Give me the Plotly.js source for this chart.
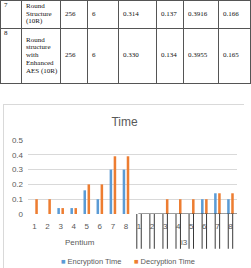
<!DOCTYPE html>
<html>
<head>
<meta charset="utf-8">
<script src="https://cdn.plot.ly/plotly-3.0.1.min.js"></script>
<style>
  html, body { margin:0; padding:0; background:#fff; width:251px; height:268px; overflow:hidden; }
  #tbl { position:absolute; left:0; top:0; border-collapse:collapse; table-layout:fixed;
         font-family:"Liberation Serif","DejaVu Serif",serif; font-size:7px; line-height:7.8px; color:#111; }
  #tbl td { border:1px solid #555; padding:0 0 0 4px; vertical-align:middle; overflow:hidden; }
  #tbl td.num { vertical-align:top; padding-top:1px; padding-left:3px; }
  #chart { position:absolute; left:3px; top:104px; width:241px; height:170px; border:1px solid #D9D9D9; box-sizing:border-box; }
</style>
</head>
<body>
<table id="tbl">
  <colgroup>
    <col style="width:21px"><col style="width:39px"><col style="width:27px"><col style="width:31px">
    <col style="width:38px"><col style="width:27px"><col style="width:35px"><col style="width:32px">
  </colgroup>
  <tbody id="tbody"></tbody>
</table>
<div id="chart"></div>
<script>
// ---- table data ----
const rowNumbers = ["7", "8"];
const rowNames = ["Round<br>Structure<br>(10R)", "Round<br>structure<br>with<br>Enhanced<br>AES (10R)"];
const keySizes = ["256", "256"];
const colSix = ["6", "6"];
const colA = ["0.314", "0.330"];
const colB = ["0.137", "0.134"];
const colC = ["0.3916", "0.3955"];
const colD = ["0.166", "0.165"];
const rowHeights = [28, 55];

const tbody = document.getElementById('tbody');
rowNumbers.forEach((n, i) => {
  const tr = document.createElement('tr');
  tr.style.height = rowHeights[i] + 'px';
  const cells = [n, rowNames[i], keySizes[i], colSix[i], colA[i], colB[i], colC[i], colD[i]];
  cells.forEach((c, j) => {
    const td = document.createElement('td');
    td.innerHTML = c;
    if (j === 0) td.className = 'num';
    tr.appendChild(td);
  });
  tbody.appendChild(tr);
});

// ---- chart data ----
const groups = ["Pentium", "i3"];
const labels = ["1", "2", "3", "4", "5", "6", "7", "8"];
const encPentium = [0, 0, 0.04, 0.04, 0.16, 0.1, 0.3, 0.3];
const decPentium = [0.1, 0.1, 0.04, 0.04, 0.2, 0.2, 0.39, 0.39];
const encI3 = [0, 0, 0, 0, 0, 0.1, 0.14, 0.1];
const decI3 = [0, 0, 0.1, 0.1, 0.1, 0.1, 0.14, 0.14];
const seriesNames = ["Encryption Time", "Decryption Time"];
const colors = ["#5B9BD5", "#ED7D31"];

// category positions (index along the axis) and their labels
const catIdx = [], catText = [];
groups.forEach((g, gi) => labels.forEach((l, li) => { catIdx.push(gi * labels.length + li); catText.push(l); }));
const nCat = catIdx.length;

const traces = [
  { type:'bar', name: seriesNames[0], x:catIdx, y: encPentium.concat(encI3), marker:{color:colors[0]}, showlegend:false },
  { type:'bar', name: seriesNames[1], x:catIdx, y: decPentium.concat(decI3), marker:{color:colors[1]}, showlegend:false }
];

// odd rendering artifacts in the second group: line pairs around each label + dark baseline
const shapes = [];
for (let k = labels.length; k < nCat; k++) {
  [-0.17, 0.17].forEach(d => {
    shapes.push({ type:'line', xref:'x', yref:'paper', x0:k + d, x1:k + d, y0:0, y1:-0.47,
                  line:{color:'#3a3a3a', width:1}, layer:'above' });
  });
}
shapes.push({ type:'line', xref:'x', yref:'y', x0:labels.length - 0.05, x1:nCat - 0.5, y0:0, y1:0,
              line:{color:'#3a3a3a', width:1}, layer:'above' });

const txt = '#595959';
const annotations = groups.map((g, gi) => ({
  xref:'x', yref:'paper', x: gi * labels.length + (labels.length - 1) / 2, y:-0.39,
  xanchor:'center', yanchor:'middle', showarrow:false, text:g, font:{size:8, color:txt}
}));
annotations.push(
  { xref:'paper', yref:'paper', x:0.148, y:-0.645, xanchor:'left', yanchor:'middle', showarrow:false,
    text:'<span style="color:' + colors[0] + '">■</span> ' + seriesNames[0], font:{size:7.5, color:txt} },
  { xref:'paper', yref:'paper', x:0.497, y:-0.645, xanchor:'left', yanchor:'middle', showarrow:false,
    text:'<span style="color:' + colors[1] + '">■</span> ' + seriesNames[1], font:{size:7.5, color:txt} }
);

const layout = {
  width:241, height:170,
  margin:{l:24, r:8, t:35, b:61},
  paper_bgcolor:'#fff', plot_bgcolor:'#fff',
  font:{family:'"Liberation Sans", Arial, sans-serif', size:8, color:txt},
  title:{text:'Time', font:{size:12, color:txt}, x:0.5, xanchor:'center', y:0.9, yref:'container', yanchor:'middle'},
  barmode:'group', bargap:0.38, bargroupgap:0.375,
  xaxis:{ range:[-0.5, nCat - 0.5], tickmode:'array', tickvals:catIdx, ticktext:catText,
          showgrid:false, zeroline:false, showline:false, ticks:'', tickfont:{size:8, color:txt}, ticklabelstandoff:6 },
  yaxis:{ range:[0, 0.5], dtick:0.1, showgrid:true, gridcolor:'#D9D9D9', gridwidth:1, zeroline:false,
          showline:false, ticks:'', tickfont:{size:8, color:txt}, ticklabelstandoff:4 },
  shapes: shapes,
  annotations: annotations
};

Plotly.newPlot('chart', traces, layout, {displayModeBar:false, staticPlot:true});
</script>
</body>
</html>
